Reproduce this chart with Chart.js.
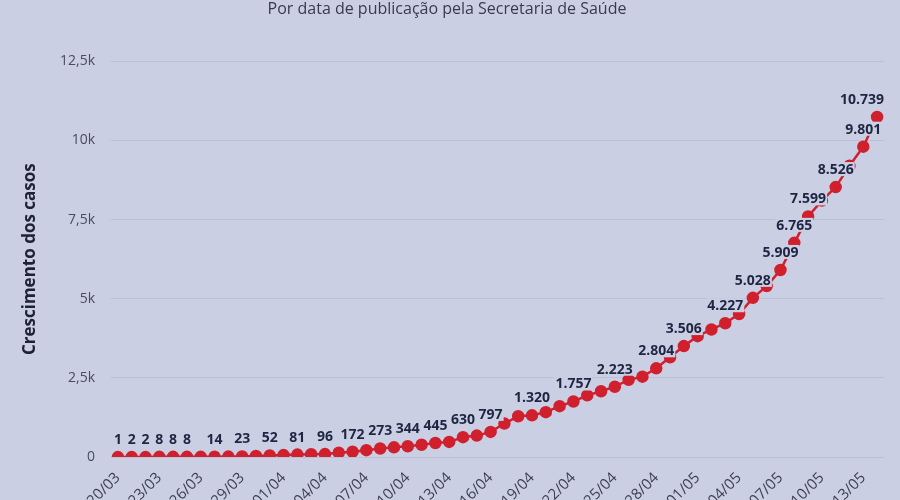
<!DOCTYPE html>
<html>
<head>
<meta charset="utf-8">
<script src="https://cdn.jsdelivr.net/npm/chart.js@4.4.1/dist/chart.umd.min.js"></script>
<style>
  html, body { margin: 0; padding: 0; overflow: hidden; background: #cbcfe4; }
  #box { width: 900px; height: 520px; position: relative; }
</style>
</head>
<body>
<div id="box"><canvas id="myChart"></canvas></div>
<script>
const dates = [
  '20/03', '21/03', '22/03', '23/03', '24/03', '25/03', '26/03', '27/03', '28/03', '29/03', '30/03', '31/03',
  '01/04', '02/04', '03/04', '04/04', '05/04', '06/04', '07/04', '08/04', '09/04', '10/04', '11/04', '12/04',
  '13/04', '14/04', '15/04', '16/04', '17/04', '18/04', '19/04', '20/04', '21/04', '22/04', '23/04', '24/04',
  '25/04', '26/04', '27/04', '28/04', '29/04', '30/04', '01/05', '02/05', '03/05', '04/05', '05/05', '06/05',
  '07/05', '08/05', '09/05', '10/05', '11/05', '12/05', '13/05', '14/05'
];
const casos = [
  1, 2, 2, 8, 8, 8, 10, 14, 18, 23, 35, 52,
  65, 81, 90, 96, 140, 172, 220, 273, 310, 344, 390, 445,
  480, 630, 680, 797, 1060, 1290, 1320, 1420, 1610, 1757, 1950, 2080,
  2223, 2440, 2540, 2804, 3150, 3506, 3820, 4030, 4227, 4520, 5028, 5400,
  5909, 6765, 7599, 8100, 8526, 9200, 9801, 10739
];
// points whose value is written above them
const labelled = [0, 1, 2, 3, 4, 5, 7, 9, 11, 13, 15, 17, 19, 21, 23, 25, 27, 30, 33, 36, 39, 41, 44, 46, 48, 49, 50, 52, 54, 55];
const yTicks = [0, 2500, 5000, 7500, 10000, 12500];

const bg = '#cbcfe4';
const red = '#d0202e';

function fmt(v) {
  return String(v).replace(/\B(?=(\d{3})+(?!\d))/g, '.');
}

const valueLabels = {
  id: 'valueLabels',
  afterDatasetsDraw(chart) {
    const c = chart.ctx;
    const pts = chart.getDatasetMeta(0).data;
    c.save();
    c.font = 'bold 14px "Open Sans"';
    c.textAlign = 'center';
    c.textBaseline = 'middle';
    labelled.forEach(i => {
      const p = pts[i];
      const t = fmt(casos[i]);
      const w = c.measureText(t).width;
      let x = p.x;
      if (x + w / 2 > chart.chartArea.right) x = chart.chartArea.right - w / 2;
      const y = p.y - 18;
      c.fillStyle = bg;
      c.fillRect(x - w / 2 - 1, y - 7, w + 2, 14);
      c.fillStyle = '#1f2642';
      c.fillText(t, x, y + 1);
    });
    c.restore();
  }
};

const ctx = document.getElementById('myChart');

new Chart(ctx, {
  type: 'line',
  data: {
    labels: dates,
    datasets: [{
      label: 'Casos',
      data: casos,
      borderColor: red,
      backgroundColor: red,
      pointBackgroundColor: red,
      pointBorderColor: red,
      pointRadius: 5,
      pointHoverRadius: 5,
      borderWidth: 2.5,
      fill: false,
      tension: 0
    }]
  },
  options: {
    responsive: true,
    maintainAspectRatio: false,
    animation: false,
    layout: { padding: { left: 10, right: 16, top: 0, bottom: 6 } },
    plugins: {
      legend: { display: false },
      tooltip: { enabled: false },
      title: {
        display: true,
        text: 'Por data de publicação pela Secretaria de Saúde',
        color: '#3a3b4a',
        font: { family: 'Open Sans', size: 16, weight: 'normal' },
        padding: { top: 0, bottom: 42 }
      }
    },
    scales: {
      x: {
        offset: true,
        grid: { display: false },
        border: { display: false },
        ticks: {
          autoSkip: false,
          maxRotation: 45,
          minRotation: 45,
          padding: 4,
          color: '#3e4052',
          font: { family: 'Open Sans', size: 15 },
          callback: (v, i) => (i % 3 === 0 ? dates[i] : '')
        }
      },
      y: {
        min: 0,
        max: 12500,
        afterFit: (scale) => { scale.width = 101; },
        afterBuildTicks: (scale) => { scale.ticks = yTicks.map(v => ({ value: v })); },
        grid: { color: 'rgba(60,60,90,0.10)', drawTicks: false },
        border: { display: false },
        ticks: {
          padding: 16,
          color: '#4a4c5e',
          font: { family: 'Open Sans', size: 14 },
          callback: v => (v === 0 ? '0' : String(v / 1000).replace('.', ',') + 'k')
        },
        title: {
          display: true,
          text: 'Crescimento dos casos',
          color: '#1f2233',
          font: { family: 'Open Sans', size: 17, weight: 'bold' },
          padding: { top: 10, bottom: 0 }
        }
      }
    }
  },
  plugins: [valueLabels]
});
</script>
</body>
</html>
